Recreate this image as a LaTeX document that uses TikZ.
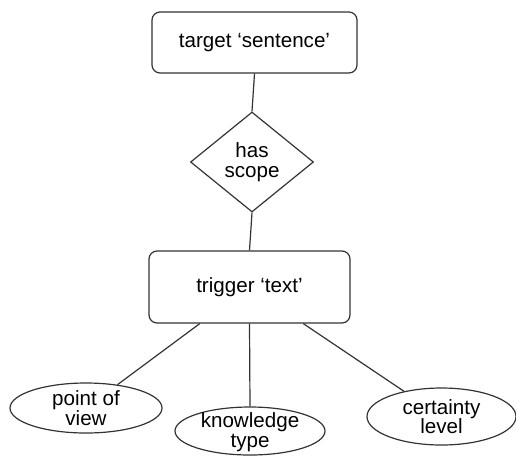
\documentclass[tikz,border=0pt]{standalone}
\usepackage{fontspec}
\setmainfont{Liberation Sans}
\usetikzlibrary{shapes.geometric,calc}
\definecolor{linec}{HTML}{333333}
\tikzset{
  every node/.style={font=\fontsize{20.6}{19.5}\selectfont, text=black},
  boxnode/.style={draw=linec, line width=1.2pt, rounded corners=8pt, fill=white, inner sep=0pt},
  dianode/.style={draw=linec, line width=1.2pt, diamond, aspect=1.23, inner sep=0pt, minimum width=123pt, minimum height=100pt},
  ellnode/.style={draw=linec, line width=1.2pt, ellipse, inner sep=0pt},
  txt/.style={align=center, inner sep=0pt},
  conn/.style={draw=linec, line width=1.2pt}
}
\begin{document}
\begin{tikzpicture}[x=1pt,y=-1pt]
\useasboundingbox (0,0) rectangle (516,456);
\node[boxnode, minimum width=205pt, minimum height=61pt] (top) at (254.5,42.5) {target ‘sentence’};
\node[dianode] (dia) at (252,162) {};
\node[txt] (diat) at (dia) {has\\scope};
\node[boxnode, minimum width=201pt, minimum height=72pt] (trig) at (249.5,287) {trigger ‘text’};
\node[ellnode, minimum width=152pt, minimum height=50pt] (pov) at (86,408) {};
\node[txt] (povt) at (pov) {point of\\view};
\node[ellnode, minimum width=150pt, minimum height=48pt] (kt) at (250,431) {};
\node[txt] (ktt) at (250,432) {knowledge\\type};
\node[ellnode, minimum width=149pt, minimum height=57pt] (cl) at (441.5,416.5) {};
\node[txt] (clt) at (cl) {certainty\\level};
\coordinate (tl) at ($(trig.south west)!0.254!(trig.south east)$);
\coordinate (tr) at ($(trig.south west)!0.766!(trig.south east)$);
\draw[conn] (top.south) -- (dia.north);
\draw[conn] (dia.south) -- (trig.north);
\draw[conn] (tl) -- (pov);
\draw[conn] (trig.south) -- (kt.north);
\draw[conn] (tr) -- (cl);
\end{tikzpicture}
\end{document}
